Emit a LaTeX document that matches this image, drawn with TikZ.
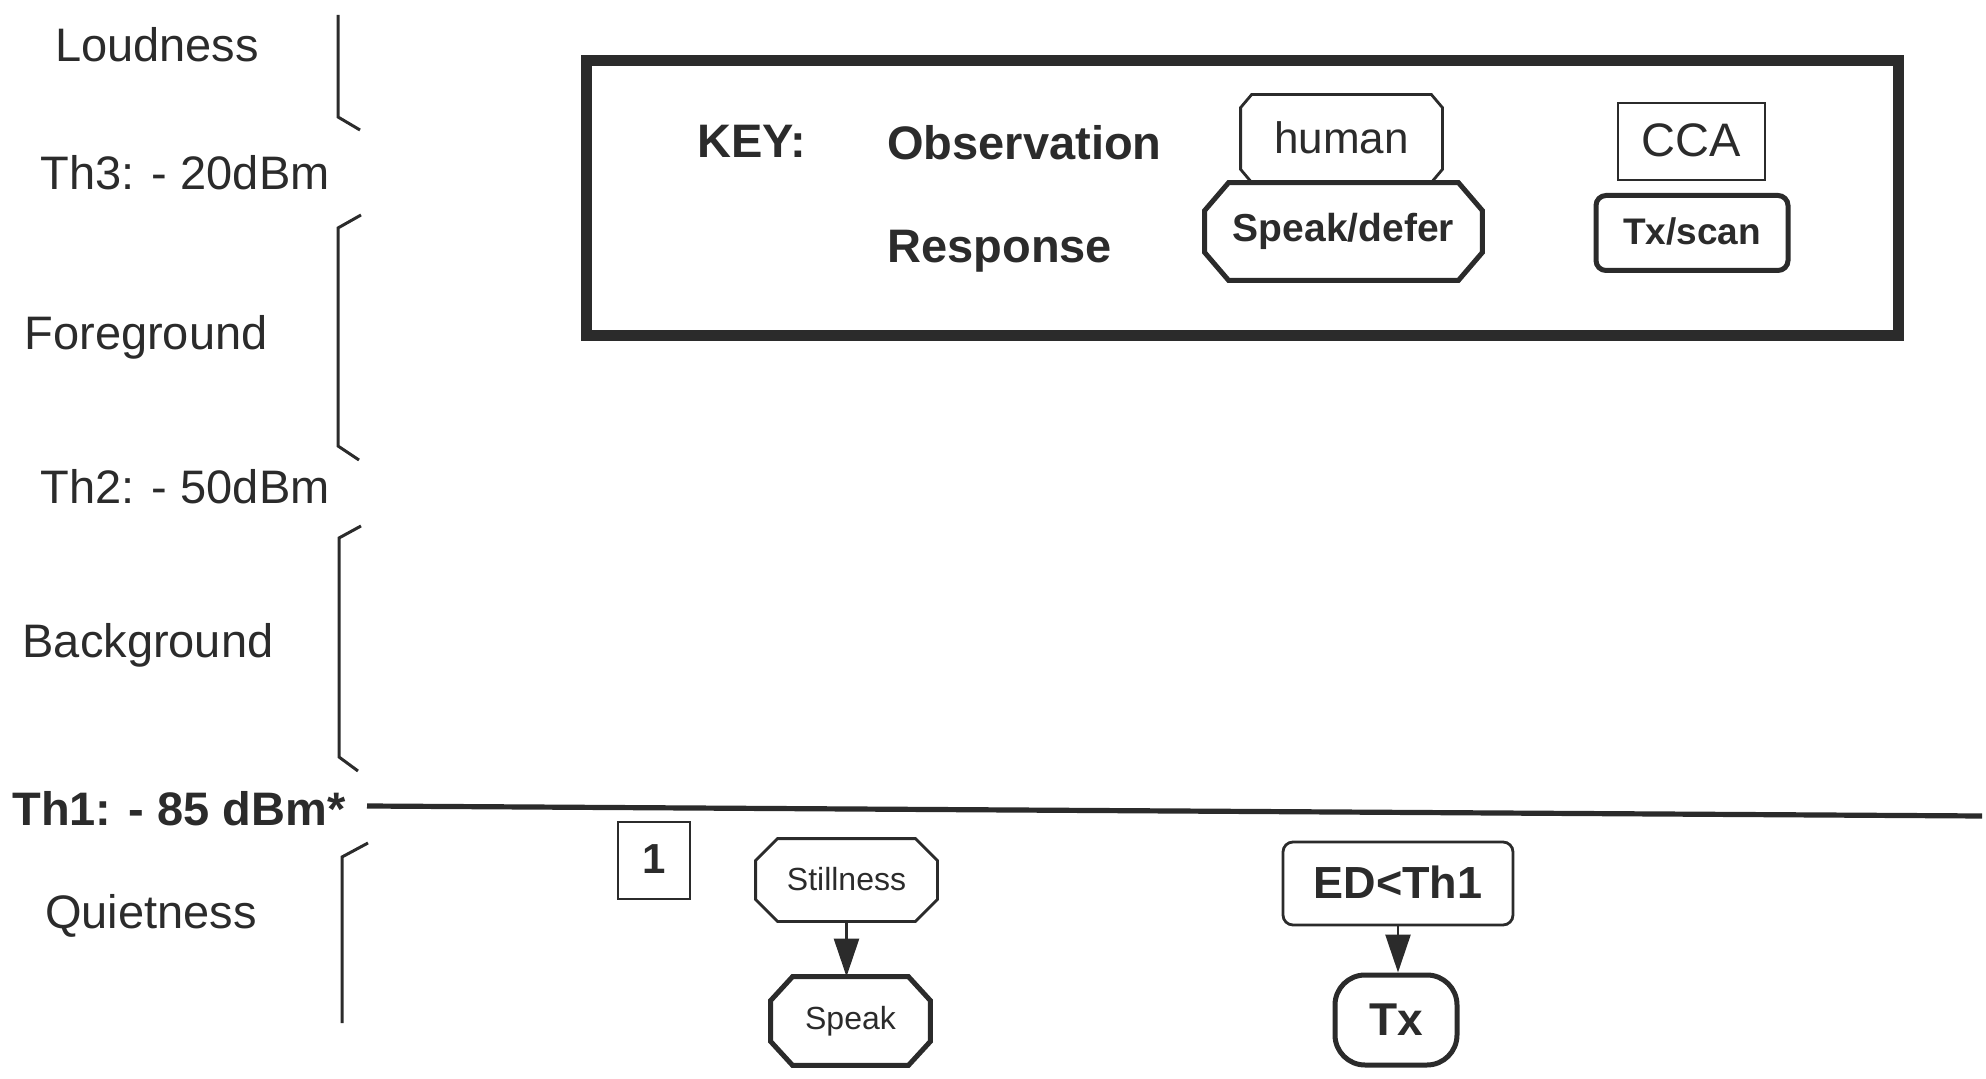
\documentclass[tikz,border=0pt]{standalone}
\usepackage{fontspec}
\setmainfont{Liberation Sans}
\usetikzlibrary{arrows.meta,calc}
\definecolor{ink}{HTML}{2B2B2B}
\newcommand\chamf[4]{%
  \draw[#4] ($(#1.north west)+(#2,0)$) -- ($(#1.north east)+(-#2,0)$)
    -- ($(#1.north east)+(0,#3)$) -- ($(#1.south east)+(0,-#3)$)
    -- ($(#1.south east)+(-#2,0)$) -- ($(#1.south west)+(#2,0)$)
    -- ($(#1.south west)+(0,-#3)$) -- ($(#1.north west)+(0,#3)$) -- cycle;}
\begin{document}
\begin{tikzpicture}[x=0.5pt,y=-0.5pt,
  every node/.style={text=ink, inner sep=0pt},
  lbl/.style={font=\fontsize{23.5}{28}\selectfont, anchor=base},
  lblb/.style={font=\fontsize{23.5}{28}\selectfont\bfseries, anchor=base},
  bracket/.style={draw=ink, line width=1.5pt},
  thinbox/.style={draw=ink, line width=1.4pt},
  thickbox/.style={draw=ink, line width=2.5pt},
  hole/.style={draw=none},
  arr/.style={draw=ink, line width=1.3pt, -{Triangle[width=12.5pt,length=19pt]}},
]
\useasboundingbox (0,0) rectangle (1986,1079);

% left scale labels
\node[lbl] (loud) at (157,62) {Loudness};
\node[lbl] (th3) at (185,190) {Th3: - 20dBm};
\node[lbl] (fore) at (146,350) {Foreground};
\node[lbl] (th2) at (185,504) {Th2: - 50dBm};
\node[lbl] (back) at (148,657) {Background};
\node[lblb] (th1) at (179,825) {Th1: - 85 dBm*};
\node[lbl] (quiet) at (151,928) {Quietness};

% brackets
\draw[bracket] (338,15) -- (338,117) -- (360,130);
\draw[bracket] (361,215) -- (338,228) -- (338,446) -- (359,460);
\draw[bracket] (361,526) -- (339,538) -- (339,757) -- (358,771);
\draw[bracket] (368,843) -- (342,857) -- (342,1023);

% threshold line
\coordinate (l1) at (367,806);
\coordinate (l2) at (1982,816);
\draw[draw=ink, line width=2.6pt] (l1) -- (l2);

% key box
\node[draw=ink, line width=5.5pt, minimum width=656pt, minimum height=137.5pt] (keybox) at (1242,198.5) {};
\node[lblb, anchor=base west] (keyt) at (697,158) {KEY:};
\node[lblb, anchor=base west] (obs) at (887,160) {Observation};
\node[lblb, anchor=base west] (resp) at (887,263) {Response};

\node[hole, minimum width=100.5pt, minimum height=43.5pt, font=\fontsize{22}{26}\selectfont] (human) at (1341.5,138.5) {\raisebox{1pt}{human}};
\chamf{human}{11}{13}{thinbox}
\node[hole, minimum width=138.5pt, minimum height=48.5pt, font=\fontsize{19.5}{24}\selectfont\bfseries] (spdef) at (1343.5,231.5) {Speak/defer};
\chamf{spdef}{24}{28}{thickbox}
\node[thinbox, minimum width=73.5pt, minimum height=38.5pt, font=\fontsize{23.5}{28}\selectfont] (cca) at (1691.5,141.5) {\raisebox{1pt}{CCA}};
\node[thickbox, rounded corners=5pt, minimum width=96pt, minimum height=37.5pt, font=\fontsize{18.5}{22}\selectfont\bfseries] (txscan) at (1692,233) {\raisebox{2pt}{Tx/scan}};

% quietness region
\node[thinbox, minimum width=36pt, minimum height=38.5pt, font=\fontsize{21}{25}\selectfont\bfseries] (one) at (654,860.5) {\raisebox{1.5pt}{1}};

\node[hole, minimum width=90.5pt, minimum height=41pt, font=\fontsize{16}{19}\selectfont] (still) at (846.5,880) {\raisebox{1pt}{Stillness}};
\chamf{still}{22}{22}{thinbox}
\node[hole, minimum width=79.5pt, minimum height=44pt, font=\fontsize{16}{19}\selectfont] (speak) at (850.5,1021) {Speak};
\chamf{speak}{22}{24}{thickbox}
\draw[arr] (still.south) -- (still.south |- speak.north);

\node[thinbox, rounded corners=5pt, minimum width=115pt, minimum height=41.5pt, font=\fontsize{22.5}{27}\selectfont\bfseries] (ed) at (1398,883.5) {\raisebox{1.5pt}{ED<Th1}};
\node[thickbox, rounded corners=15pt, minimum width=61pt, minimum height=45pt, font=\fontsize{23}{27}\selectfont\bfseries] (tx) at (1396,1020) {Tx};
\draw[arr] (ed.south) -- (ed.south |- tx.north);
\end{tikzpicture}
\end{document}
